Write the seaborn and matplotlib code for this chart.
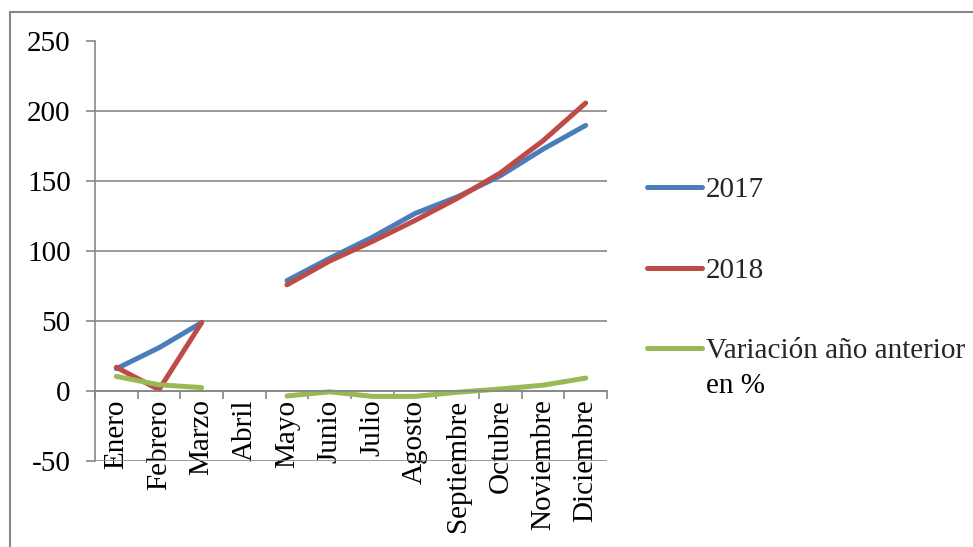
import numpy as np
import pandas as pd
import matplotlib
matplotlib.use("Agg")
import matplotlib.pyplot as plt
from matplotlib.patches import Rectangle
from matplotlib.ticker import FixedLocator
import seaborn as sns

# Monthly values (April has no data)
meses = ["Enero", "Febrero", "Marzo", "Abril", "Mayo", "Junio", "Julio",
         "Agosto", "Septiembre", "Octubre", "Noviembre", "Diciembre"]
serie_2017 = [16, 31, 49, np.nan, 79, 95, 110, 127, 139, 154, 173, 190]
serie_2018 = [17, 1, 49, np.nan, 76, 93, 107, 122, 138, 156, 179, 206]
variacion = [10.5, 4.5, 2.5, np.nan, -3.5, -0.5, -3.8, -3.8, -0.8, 1.5, 4.2, 9.3]
y_ticks = [-50, 0, 50, 100, 150, 200, 250]

nombres = ["2017", "2018", "Variación año anterior"]
colores = ["#4A7EBB", "#BE4B48", "#98B954"]

df = pd.DataFrame({"mes": meses, nombres[0]: serie_2017,
                   nombres[1]: serie_2018, nombres[2]: variacion})
df["pos"] = np.arange(len(meses))
largo = df.melt(id_vars=["mes", "pos"], var_name="serie", value_name="valor")
# Segment id per series: a missing month starts a new stretch of line
largo["tramo"] = largo.groupby("serie")["valor"].transform(
    lambda v: v.isna().cumsum())
largo = largo.dropna(subset=["valor"])

sns.set_theme(style="white")
plt.rcParams["font.family"] = ["Liberation Serif", "DejaVu Serif"]
gris = "#878787"
fs = 21

fig = plt.figure(figsize=(9.73, 5.47), dpi=100)
ax = fig.add_axes([95 / 973, 1 - 461 / 547, 512 / 973, 419.5 / 547])

sns.lineplot(data=largo, x="pos", y="valor", hue="serie", units="tramo",
             estimator=None, sort=False, palette=colores, hue_order=nombres,
             linewidth=3.6, solid_capstyle="round", ax=ax)

# Category axis sits on the zero line
for s in ["top", "right"]:
    ax.spines[s].set_visible(False)
ax.spines["bottom"].set_position(("data", 0))
ax.spines["bottom"].set_color(gris)
ax.spines["left"].set_color(gris)
ax.spines["bottom"].set_linewidth(1.2)
ax.spines["left"].set_linewidth(1.2)

ax.set_xlim(-0.5, len(meses) - 0.5)
ax.set_ylim(-50, 250)
ax.set_yticks(y_ticks)
ax.set_yticklabels([str(v) for v in y_ticks])
ax.set_xticks(df["pos"])
ax.set_xticklabels(meses, rotation=90, ha="center", va="top")
ax.xaxis.set_minor_locator(FixedLocator(np.arange(-0.5, len(meses), 1.0)))
ax.set_xlabel("")
ax.set_ylabel("")

ax.yaxis.grid(True, color=gris, linewidth=1.2)
ax.set_axisbelow(True)

ax.tick_params(axis="y", which="major", length=6.5, width=1.2, color=gris,
               pad=11, labelsize=fs, labelcolor="black", left=True)
ax.tick_params(axis="x", which="major", length=0, pad=6, labelsize=fs,
               labelcolor="black")
ax.tick_params(axis="x", which="minor", length=6, width=1.2, color=gris,
               bottom=True, direction="out")

handles, labels = ax.get_legend_handles_labels()
leg = ax.legend(handles, labels, loc="upper left",
                bbox_to_anchor=(647 / 973, 1 - 177 / 547),
                bbox_transform=fig.transFigure, frameon=False, fontsize=fs,
                handlelength=1.9, handletextpad=0.12, labelspacing=1.85,
                borderpad=0, borderaxespad=0)
for h in leg.get_lines():
    h.set_linewidth(3.6)
    h.set_solid_capstyle("round")

# Second line of the last legend entry, placed under its first line
fig.canvas.draw()
r = fig.canvas.get_renderer()
t3 = leg.get_texts()[2]
bb = t3.get_window_extent(r)
fig.text(bb.x0 / fig.bbox.width, (bb.y0 - 9) / fig.bbox.height, "en %",
         fontsize=fs, ha="left", va="top", color="black")

# Outer chart frame
fig.patches.append(Rectangle((10 / 973, -0.2), 1.2, 1.2 - 11.5 / 547,
                             transform=fig.transFigure, fill=False,
                             edgecolor=gris, linewidth=1.5))

fig.savefig("out.png", dpi=100)
